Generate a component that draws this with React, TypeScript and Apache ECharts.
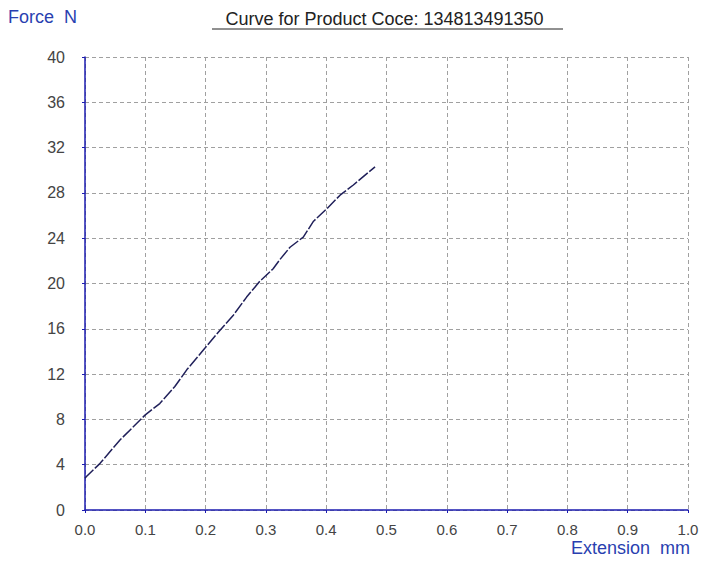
import React, { useEffect, useRef } from "react";
import * as echarts from "echarts";

const extension = [0.0, 0.002, 0.025, 0.058, 0.1, 0.124, 0.149, 0.169, 0.199, 0.221, 0.246, 0.268, 0.29, 0.312, 0.323, 0.34, 0.362, 0.379, 0.401, 0.423, 0.445, 0.481];
const force = [2.8, 2.94, 4.12, 6.18, 8.4, 9.4, 10.9, 12.4, 14.3, 15.7, 17.2, 18.8, 20.2, 21.3, 22.1, 23.2, 24.1, 25.5, 26.6, 27.8, 28.7, 30.3];

const titleText = "Curve for Product Coce: 134813491350 ";
const yAxisName = "Force  N";
const xAxisName = "Extension  mm";

export default function App() {
  const ref = useRef<HTMLDivElement>(null);
  useEffect(() => {
    if (!ref.current) return;
    const chart = echarts.init(ref.current, null, { renderer: "svg" });
    const blue = "#1c1cb0";
    const textBlue = "#2a3fb0";
    const font = "Liberation Sans";
    chart.setOption({
      animation: false,
      backgroundColor: "#ffffff",
      grid: { left: 85, right: 14, top: 57, bottom: 52, containLabel: false },
      xAxis: {
        type: "value",
        min: 0,
        max: 1,
        interval: 0.1,
        axisLine: { show: true, onZero: false, lineStyle: { color: blue, width: 1.5 } },
        axisTick: { show: true, length: 3, lineStyle: { color: blue } },
        axisLabel: {
          color: "#444",
          fontSize: 15,
          fontFamily: font,
          margin: 12,
          formatter: (v: number) => v.toFixed(1),
        },
        splitLine: { show: true, lineStyle: { color: "#a0a0a0", type: [4, 3], width: 1 } },
      },
      yAxis: {
        type: "value",
        min: 0,
        max: 40,
        interval: 4,
        axisLine: { show: true, onZero: false, lineStyle: { color: blue, width: 1.5 } },
        axisTick: { show: true, length: 3, lineStyle: { color: blue } },
        axisLabel: { color: "#444", fontSize: 16, fontFamily: font, margin: 20 },
        splitLine: { show: true, lineStyle: { color: "#a0a0a0", type: [4, 3], width: 1 } },
      },
      series: [
        {
          type: "line",
          data: extension.map((x, i) => [x, force[i]]),
          showSymbol: false,
          smooth: false,
          lineStyle: { color: "#20205a", width: 1.5, type: [12, 2] },
        },
      ],
      graphic: [
        {
          type: "text",
          left: 8,
          top: 8,
          style: { text: yAxisName, fill: textBlue, font: `18px "${font}"` },
        },
        {
          type: "text",
          x: 387,
          y: 19,
          style: {
            text: titleText,
            fill: "#222",
            font: `18px "${font}"`,
            textAlign: "center",
            textVerticalAlign: "middle",
          },
        },
        {
          type: "line",
          shape: { x1: 212, y1: 29, x2: 563, y2: 29 },
          style: { stroke: "#222", lineWidth: 1 },
        },
        {
          type: "text",
          x: 690,
          y: 548,
          style: {
            text: xAxisName,
            fill: textBlue,
            font: `18px "${font}"`,
            textAlign: "right",
            textVerticalAlign: "middle",
          },
        },
      ],
    });
    return () => chart.dispose();
  }, []);
  return (
    <div
      ref={ref}
      style={{ position: "fixed", left: 0, top: 0, width: 702, height: 562 }}
    />
  );
}
